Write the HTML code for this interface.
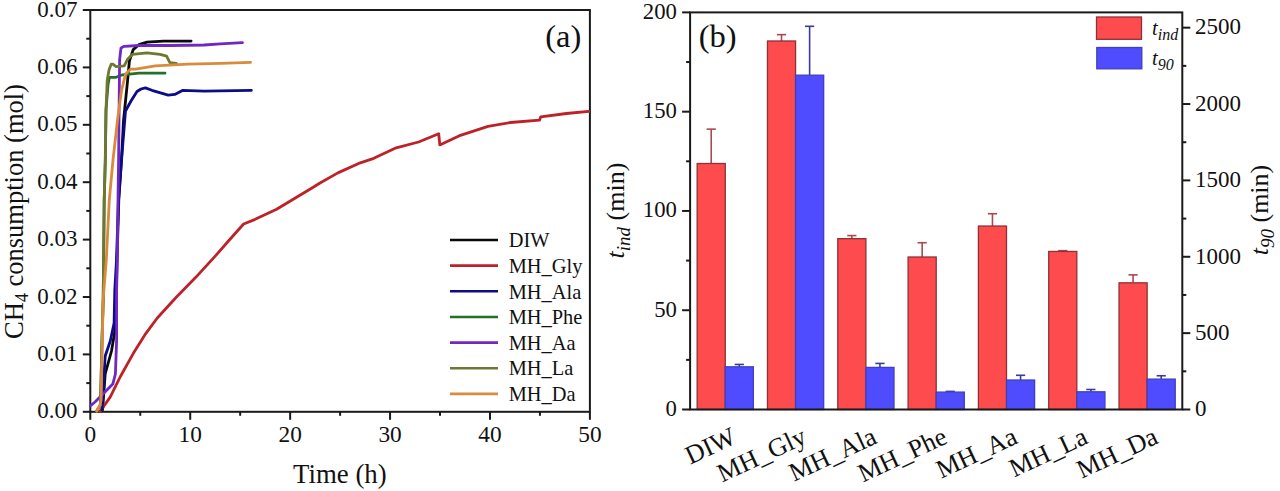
<!DOCTYPE html>
<html><head><meta charset="utf-8"><style>
html,body{margin:0;padding:0;background:#fff;width:1280px;height:491px;overflow:hidden}
svg{display:block}
text{font-family:"Liberation Serif", serif;fill:#111}
</style></head><body>
<svg width="1280" height="491" viewBox="0 0 1280 491">
<rect x="90.3" y="10.0" width="499.59999999999997" height="401.8" fill="none" stroke="#1a1a1a" stroke-width="2"/>
<line x1="82.8" y1="411.80" x2="90.3" y2="411.80" stroke="#1a1a1a" stroke-width="2"/>
<text transform="translate(77.4,418.40) scale(0.965,1)" text-anchor="end" font-size="23.8">0.00</text>
<line x1="86.3" y1="383.10" x2="90.3" y2="383.10" stroke="#1a1a1a" stroke-width="2"/>
<line x1="82.8" y1="354.40" x2="90.3" y2="354.40" stroke="#1a1a1a" stroke-width="2"/>
<text transform="translate(77.4,361.00) scale(0.965,1)" text-anchor="end" font-size="23.8">0.01</text>
<line x1="86.3" y1="325.70" x2="90.3" y2="325.70" stroke="#1a1a1a" stroke-width="2"/>
<line x1="82.8" y1="297.00" x2="90.3" y2="297.00" stroke="#1a1a1a" stroke-width="2"/>
<text transform="translate(77.4,303.60) scale(0.965,1)" text-anchor="end" font-size="23.8">0.02</text>
<line x1="86.3" y1="268.30" x2="90.3" y2="268.30" stroke="#1a1a1a" stroke-width="2"/>
<line x1="82.8" y1="239.60" x2="90.3" y2="239.60" stroke="#1a1a1a" stroke-width="2"/>
<text transform="translate(77.4,246.20) scale(0.965,1)" text-anchor="end" font-size="23.8">0.03</text>
<line x1="86.3" y1="210.90" x2="90.3" y2="210.90" stroke="#1a1a1a" stroke-width="2"/>
<line x1="82.8" y1="182.20" x2="90.3" y2="182.20" stroke="#1a1a1a" stroke-width="2"/>
<text transform="translate(77.4,188.80) scale(0.965,1)" text-anchor="end" font-size="23.8">0.04</text>
<line x1="86.3" y1="153.50" x2="90.3" y2="153.50" stroke="#1a1a1a" stroke-width="2"/>
<line x1="82.8" y1="124.80" x2="90.3" y2="124.80" stroke="#1a1a1a" stroke-width="2"/>
<text transform="translate(77.4,131.40) scale(0.965,1)" text-anchor="end" font-size="23.8">0.05</text>
<line x1="86.3" y1="96.10" x2="90.3" y2="96.10" stroke="#1a1a1a" stroke-width="2"/>
<line x1="82.8" y1="67.40" x2="90.3" y2="67.40" stroke="#1a1a1a" stroke-width="2"/>
<text transform="translate(77.4,74.00) scale(0.965,1)" text-anchor="end" font-size="23.8">0.06</text>
<line x1="86.3" y1="38.70" x2="90.3" y2="38.70" stroke="#1a1a1a" stroke-width="2"/>
<line x1="82.8" y1="10.00" x2="90.3" y2="10.00" stroke="#1a1a1a" stroke-width="2"/>
<text transform="translate(77.4,16.60) scale(0.965,1)" text-anchor="end" font-size="23.8">0.07</text>
<line x1="90.30" y1="411.8" x2="90.30" y2="419.8" stroke="#1a1a1a" stroke-width="2"/>
<text transform="translate(90.30,442.2) scale(0.98,1)" text-anchor="middle" font-size="23.8">0</text>
<line x1="140.26" y1="411.8" x2="140.26" y2="415.8" stroke="#1a1a1a" stroke-width="2"/>
<line x1="190.22" y1="411.8" x2="190.22" y2="419.8" stroke="#1a1a1a" stroke-width="2"/>
<text transform="translate(190.22,442.2) scale(0.98,1)" text-anchor="middle" font-size="23.8">10</text>
<line x1="240.18" y1="411.8" x2="240.18" y2="415.8" stroke="#1a1a1a" stroke-width="2"/>
<line x1="290.14" y1="411.8" x2="290.14" y2="419.8" stroke="#1a1a1a" stroke-width="2"/>
<text transform="translate(290.14,442.2) scale(0.98,1)" text-anchor="middle" font-size="23.8">20</text>
<line x1="340.10" y1="411.8" x2="340.10" y2="415.8" stroke="#1a1a1a" stroke-width="2"/>
<line x1="390.06" y1="411.8" x2="390.06" y2="419.8" stroke="#1a1a1a" stroke-width="2"/>
<text transform="translate(390.06,442.2) scale(0.98,1)" text-anchor="middle" font-size="23.8">30</text>
<line x1="440.02" y1="411.8" x2="440.02" y2="415.8" stroke="#1a1a1a" stroke-width="2"/>
<line x1="489.98" y1="411.8" x2="489.98" y2="419.8" stroke="#1a1a1a" stroke-width="2"/>
<text transform="translate(489.98,442.2) scale(0.98,1)" text-anchor="middle" font-size="23.8">40</text>
<line x1="539.94" y1="411.8" x2="539.94" y2="415.8" stroke="#1a1a1a" stroke-width="2"/>
<line x1="589.90" y1="411.8" x2="589.90" y2="419.8" stroke="#1a1a1a" stroke-width="2"/>
<text transform="translate(589.90,442.2) scale(0.98,1)" text-anchor="middle" font-size="23.8">50</text>
<text x="293.1" y="482.6" font-size="26.8">Time (h)</text>
<text transform="translate(22.8,211.5) rotate(-90)" text-anchor="middle" font-size="26.5">CH<tspan font-size="18" dy="5">4</tspan><tspan dy="-5"> consumption (mol)</tspan></text>
<text x="545.3" y="46.7" font-size="32.5">(a)</text>
<path d="M102.6,409.6 L105.2,374.0 L111.5,351.0 L115.4,328.0 L116.2,300.0 L117.0,260.0 L118.8,200.0 L121.5,160.0 L123.5,121.0 L127.6,80.4 L129.4,61.0 L133.2,49.6 L138.9,44.7 L147.0,42.2 L163.3,41.1 L191.1,41.1" fill="none" stroke="#0a0a0a" stroke-width="2.8" stroke-linejoin="round" stroke-linecap="round"/>
<path d="M99.8,411.5 L101.4,409.6 L110.3,396.9 L120.4,376.5 L133.2,353.6 L145.9,333.3 L157.3,318.0 L176.0,297.5 L196.0,277.1 L216.1,255.1 L228.9,240.5 L243.6,224.0 L254.6,219.6 L276.6,209.3 L294.9,198.3 L313.2,187.3 L320.0,183.0 L337.9,172.9 L360.3,162.8 L373.8,158.3 L396.2,147.8 L418.6,142.0 L438.7,133.7 L439.8,144.9 L458.9,135.9 L488.0,126.3 L510.4,122.5 L539.5,120.2 L540.7,116.9 L566.4,113.5 L588.8,111.3" fill="none" stroke="#bc2228" stroke-width="2.8" stroke-linejoin="round" stroke-linecap="round"/>
<path d="M102.0,410.0 L105.2,356.0 L110.3,341.0 L114.1,323.0 L114.8,290.0 L116.5,260.0 L118.5,200.0 L121.5,160.0 L125.5,111.0 L131.0,101.0 L137.0,91.5 L141.0,89.0 L145.4,87.9 L151.9,90.3 L168.2,95.2 L174.8,94.4 L182.9,90.3 L204.1,91.1 L251.4,90.3" fill="none" stroke="#0c0c8a" stroke-width="2.8" stroke-linejoin="round" stroke-linecap="round"/>
<path d="M96.7,411.0 L100.5,405.0 L102.0,340.0 L103.2,300.0 L104.2,200.0 L105.3,160.0 L106.0,110.0 L108.0,85.0 L109.3,77.3 L116.1,77.3 L122.6,74.8 L138.9,73.2 L165.0,73.2" fill="none" stroke="#237028" stroke-width="2.8" stroke-linejoin="round" stroke-linecap="round"/>
<path d="M90.6,405.7 L95.0,402.0 L105.2,391.8 L112.8,384.1 L115.4,374.0 L116.6,340.9 L116.6,290.0 L117.3,260.0 L118.0,200.0 L118.6,160.0 L119.6,60.0 L121.0,47.9 L124.2,46.3 L138.9,45.5 L171.5,45.5 L204.1,45.0 L220.4,43.9 L242.4,42.7" fill="none" stroke="#7028c4" stroke-width="2.8" stroke-linejoin="round" stroke-linecap="round"/>
<path d="M96.7,411.0 L100.5,405.0 L102.0,340.0 L103.2,300.0 L104.2,200.0 L105.3,160.0 L106.0,110.0 L107.2,80.4 L109.0,70.0 L111.2,64.2 L112.8,64.2 L116.1,66.7 L124.2,65.9 L127.5,59.3 L132.4,54.4 L147.0,52.8 L160.1,54.4 L166.6,56.1 L169.9,62.6 L176.4,63.4" fill="none" stroke="#6e7830" stroke-width="2.8" stroke-linejoin="round" stroke-linecap="round"/>
<path d="M96.7,411.0 L100.0,405.0 L101.1,400.0 L103.1,300.0 L106.3,260.0 L109.3,200.0 L113.0,160.0 L117.4,121.0 L121.5,90.5 L125.5,74.3 L130.7,69.1 L135.7,69.2 L155.2,65.9 L187.8,64.2 L220.4,63.4 L250.6,62.3" fill="none" stroke="#da8a3c" stroke-width="2.8" stroke-linejoin="round" stroke-linecap="round"/>
<line x1="450" y1="240.00" x2="498" y2="240.00" stroke="#0a0a0a" stroke-width="2.6"/>
<text x="508.7" y="247.20" font-size="20.4">DIW</text>
<line x1="450" y1="265.65" x2="498" y2="265.65" stroke="#bc2228" stroke-width="2.6"/>
<text x="508.7" y="272.85" font-size="20.4">MH_Gly</text>
<line x1="450" y1="291.30" x2="498" y2="291.30" stroke="#0c0c8a" stroke-width="2.6"/>
<text x="508.7" y="298.50" font-size="20.4">MH_Ala</text>
<line x1="450" y1="316.95" x2="498" y2="316.95" stroke="#237028" stroke-width="2.6"/>
<text x="508.7" y="324.15" font-size="20.4">MH_Phe</text>
<line x1="450" y1="342.60" x2="498" y2="342.60" stroke="#7028c4" stroke-width="2.6"/>
<text x="508.7" y="349.80" font-size="20.4">MH_Aa</text>
<line x1="450" y1="368.25" x2="498" y2="368.25" stroke="#6e7830" stroke-width="2.6"/>
<text x="508.7" y="375.45" font-size="20.4">MH_La</text>
<line x1="450" y1="393.90" x2="498" y2="393.90" stroke="#da8a3c" stroke-width="2.6"/>
<text x="508.7" y="401.10" font-size="20.4">MH_Da</text>
<line x1="711.21" y1="129.15" x2="711.21" y2="163.50" stroke="#a84a52" stroke-width="1.6"/>
<line x1="706.61" y1="129.15" x2="715.81" y2="129.15" stroke="#a84a52" stroke-width="1.6"/>
<rect x="697.16" y="163.50" width="28.10" height="246.00" fill="#fe4c4e" stroke="#8e3036" stroke-width="1.3"/>
<line x1="739.31" y1="364.44" x2="739.31" y2="366.81" stroke="#3a3aa0" stroke-width="1.6"/>
<line x1="734.71" y1="364.44" x2="743.91" y2="364.44" stroke="#3a3aa0" stroke-width="1.6"/>
<rect x="725.26" y="366.81" width="28.10" height="42.69" fill="#4e4cfe" stroke="#4040b8" stroke-width="1.3"/>
<line x1="781.52" y1="34.64" x2="781.52" y2="40.99" stroke="#a84a52" stroke-width="1.6"/>
<line x1="776.92" y1="34.64" x2="786.12" y2="34.64" stroke="#a84a52" stroke-width="1.6"/>
<rect x="767.47" y="40.99" width="28.10" height="368.51" fill="#fe4c4e" stroke="#8e3036" stroke-width="1.3"/>
<line x1="809.62" y1="26.30" x2="809.62" y2="75.17" stroke="#3a3aa0" stroke-width="1.6"/>
<line x1="805.02" y1="26.30" x2="814.22" y2="26.30" stroke="#3a3aa0" stroke-width="1.6"/>
<rect x="795.57" y="75.17" width="28.10" height="334.33" fill="#4e4cfe" stroke="#4040b8" stroke-width="1.3"/>
<line x1="851.84" y1="235.57" x2="851.84" y2="238.65" stroke="#a84a52" stroke-width="1.6"/>
<line x1="847.24" y1="235.57" x2="856.44" y2="235.57" stroke="#a84a52" stroke-width="1.6"/>
<rect x="837.79" y="238.65" width="28.10" height="170.85" fill="#fe4c4e" stroke="#8e3036" stroke-width="1.3"/>
<line x1="879.94" y1="363.41" x2="879.94" y2="367.41" stroke="#3a3aa0" stroke-width="1.6"/>
<line x1="875.34" y1="363.41" x2="884.54" y2="363.41" stroke="#3a3aa0" stroke-width="1.6"/>
<rect x="865.89" y="367.41" width="28.10" height="42.09" fill="#4e4cfe" stroke="#4040b8" stroke-width="1.3"/>
<line x1="922.15" y1="242.72" x2="922.15" y2="257.01" stroke="#a84a52" stroke-width="1.6"/>
<line x1="917.55" y1="242.72" x2="926.75" y2="242.72" stroke="#a84a52" stroke-width="1.6"/>
<rect x="908.10" y="257.01" width="28.10" height="152.49" fill="#fe4c4e" stroke="#8e3036" stroke-width="1.3"/>
<line x1="950.25" y1="391.40" x2="950.25" y2="392.10" stroke="#3a3aa0" stroke-width="1.6"/>
<line x1="945.65" y1="391.40" x2="954.85" y2="391.40" stroke="#3a3aa0" stroke-width="1.6"/>
<rect x="936.20" y="392.10" width="28.10" height="17.40" fill="#4e4cfe" stroke="#4040b8" stroke-width="1.3"/>
<line x1="992.46" y1="213.73" x2="992.46" y2="226.04" stroke="#a84a52" stroke-width="1.6"/>
<line x1="987.86" y1="213.73" x2="997.06" y2="213.73" stroke="#a84a52" stroke-width="1.6"/>
<rect x="978.41" y="226.04" width="28.10" height="183.46" fill="#fe4c4e" stroke="#8e3036" stroke-width="1.3"/>
<line x1="1020.56" y1="375.29" x2="1020.56" y2="380.02" stroke="#3a3aa0" stroke-width="1.6"/>
<line x1="1015.96" y1="375.29" x2="1025.16" y2="375.29" stroke="#3a3aa0" stroke-width="1.6"/>
<rect x="1006.51" y="380.02" width="28.10" height="29.48" fill="#4e4cfe" stroke="#4040b8" stroke-width="1.3"/>
<line x1="1062.78" y1="250.66" x2="1062.78" y2="251.45" stroke="#a84a52" stroke-width="1.6"/>
<line x1="1058.18" y1="250.66" x2="1067.38" y2="250.66" stroke="#a84a52" stroke-width="1.6"/>
<rect x="1048.73" y="251.45" width="28.10" height="158.05" fill="#fe4c4e" stroke="#8e3036" stroke-width="1.3"/>
<line x1="1090.88" y1="389.49" x2="1090.88" y2="391.80" stroke="#3a3aa0" stroke-width="1.6"/>
<line x1="1086.28" y1="389.49" x2="1095.48" y2="389.49" stroke="#3a3aa0" stroke-width="1.6"/>
<rect x="1076.83" y="391.80" width="28.10" height="17.70" fill="#4e4cfe" stroke="#4040b8" stroke-width="1.3"/>
<line x1="1133.09" y1="274.88" x2="1133.09" y2="282.83" stroke="#a84a52" stroke-width="1.6"/>
<line x1="1128.49" y1="274.88" x2="1137.69" y2="274.88" stroke="#a84a52" stroke-width="1.6"/>
<rect x="1119.04" y="282.83" width="28.10" height="126.67" fill="#fe4c4e" stroke="#8e3036" stroke-width="1.3"/>
<line x1="1161.19" y1="375.75" x2="1161.19" y2="379.11" stroke="#3a3aa0" stroke-width="1.6"/>
<line x1="1156.59" y1="375.75" x2="1165.79" y2="375.75" stroke="#3a3aa0" stroke-width="1.6"/>
<rect x="1147.14" y="379.11" width="28.10" height="30.39" fill="#4e4cfe" stroke="#4040b8" stroke-width="1.3"/>
<rect x="690.1" y="12.4" width="492.19999999999993" height="397.1" fill="none" stroke="#1a1a1a" stroke-width="2"/>
<line x1="682.1" y1="409.50" x2="690.1" y2="409.50" stroke="#1a1a1a" stroke-width="2"/>
<text transform="translate(676.9,415.90) scale(0.955,1)" text-anchor="end" font-size="23.8">0</text>
<line x1="686.1" y1="359.86" x2="690.1" y2="359.86" stroke="#1a1a1a" stroke-width="2"/>
<line x1="682.1" y1="310.23" x2="690.1" y2="310.23" stroke="#1a1a1a" stroke-width="2"/>
<text transform="translate(676.9,316.62) scale(0.955,1)" text-anchor="end" font-size="23.8">50</text>
<line x1="686.1" y1="260.59" x2="690.1" y2="260.59" stroke="#1a1a1a" stroke-width="2"/>
<line x1="682.1" y1="210.95" x2="690.1" y2="210.95" stroke="#1a1a1a" stroke-width="2"/>
<text transform="translate(676.9,217.35) scale(0.955,1)" text-anchor="end" font-size="23.8">100</text>
<line x1="686.1" y1="161.31" x2="690.1" y2="161.31" stroke="#1a1a1a" stroke-width="2"/>
<line x1="682.1" y1="111.68" x2="690.1" y2="111.68" stroke="#1a1a1a" stroke-width="2"/>
<text transform="translate(676.9,118.08) scale(0.955,1)" text-anchor="end" font-size="23.8">150</text>
<line x1="686.1" y1="62.04" x2="690.1" y2="62.04" stroke="#1a1a1a" stroke-width="2"/>
<line x1="682.1" y1="12.40" x2="690.1" y2="12.40" stroke="#1a1a1a" stroke-width="2"/>
<text transform="translate(676.9,18.80) scale(0.955,1)" text-anchor="end" font-size="23.8">200</text>
<line x1="1182.3" y1="409.50" x2="1190.3" y2="409.50" stroke="#1a1a1a" stroke-width="2"/>
<text transform="translate(1195.0,416.30) scale(0.965,1)" font-size="23.8">0</text>
<line x1="1182.3" y1="371.32" x2="1186.3" y2="371.32" stroke="#1a1a1a" stroke-width="2"/>
<line x1="1182.3" y1="333.13" x2="1190.3" y2="333.13" stroke="#1a1a1a" stroke-width="2"/>
<text transform="translate(1195.0,339.93) scale(0.965,1)" font-size="23.8">500</text>
<line x1="1182.3" y1="294.95" x2="1186.3" y2="294.95" stroke="#1a1a1a" stroke-width="2"/>
<line x1="1182.3" y1="256.77" x2="1190.3" y2="256.77" stroke="#1a1a1a" stroke-width="2"/>
<text transform="translate(1195.0,263.57) scale(0.965,1)" font-size="23.8">1000</text>
<line x1="1182.3" y1="218.59" x2="1186.3" y2="218.59" stroke="#1a1a1a" stroke-width="2"/>
<line x1="1182.3" y1="180.40" x2="1190.3" y2="180.40" stroke="#1a1a1a" stroke-width="2"/>
<text transform="translate(1195.0,187.20) scale(0.965,1)" font-size="23.8">1500</text>
<line x1="1182.3" y1="142.22" x2="1186.3" y2="142.22" stroke="#1a1a1a" stroke-width="2"/>
<line x1="1182.3" y1="104.04" x2="1190.3" y2="104.04" stroke="#1a1a1a" stroke-width="2"/>
<text transform="translate(1195.0,110.84) scale(0.965,1)" font-size="23.8">2000</text>
<line x1="1182.3" y1="65.86" x2="1186.3" y2="65.86" stroke="#1a1a1a" stroke-width="2"/>
<line x1="1182.3" y1="27.67" x2="1190.3" y2="27.67" stroke="#1a1a1a" stroke-width="2"/>
<text transform="translate(1195.0,34.47) scale(0.965,1)" font-size="23.8">2500</text>
<text x="698.7" y="46.6" font-size="32.5">(b)</text>
<rect x="1096.5" y="17" width="45" height="22.3" fill="#fe4c4e" stroke="#8e3036" stroke-width="1.3"/>
<rect x="1096.8" y="47.5" width="45" height="21.3" fill="#4e4cfe" stroke="#4040b8" stroke-width="1.3"/>
<text x="1152" y="35.2" font-size="20.5" font-style="italic">t<tspan font-size="16" dy="5">ind</tspan></text>
<text x="1152" y="64.5" font-size="20.5" font-style="italic">t<tspan font-size="16" dy="5">90</tspan></text>
<text transform="translate(737.76,442.5) rotate(-25)" text-anchor="end" font-size="26.2">DIW</text>
<text transform="translate(808.07,442.5) rotate(-25)" text-anchor="end" font-size="26.2">MH_Gly</text>
<text transform="translate(878.39,442.5) rotate(-25)" text-anchor="end" font-size="26.2">MH_Ala</text>
<text transform="translate(948.70,442.5) rotate(-25)" text-anchor="end" font-size="26.2">MH_Phe</text>
<text transform="translate(1019.01,442.5) rotate(-25)" text-anchor="end" font-size="26.2">MH_Aa</text>
<text transform="translate(1089.33,442.5) rotate(-25)" text-anchor="end" font-size="26.2">MH_La</text>
<text transform="translate(1159.64,442.5) rotate(-25)" text-anchor="end" font-size="26.2">MH_Da</text>
<text transform="translate(623.5,210.5) rotate(-90)" text-anchor="middle" font-size="26"><tspan font-style="italic">t</tspan><tspan font-style="italic" font-size="19" dy="6">ind</tspan><tspan dy="-6"> (min)</tspan></text>
<text transform="translate(1268,210) rotate(-90)" text-anchor="middle" font-size="26"><tspan font-style="italic">t</tspan><tspan font-style="italic" font-size="19" dy="6">90</tspan><tspan dy="-6"> (min)</tspan></text>
</svg></body></html>
